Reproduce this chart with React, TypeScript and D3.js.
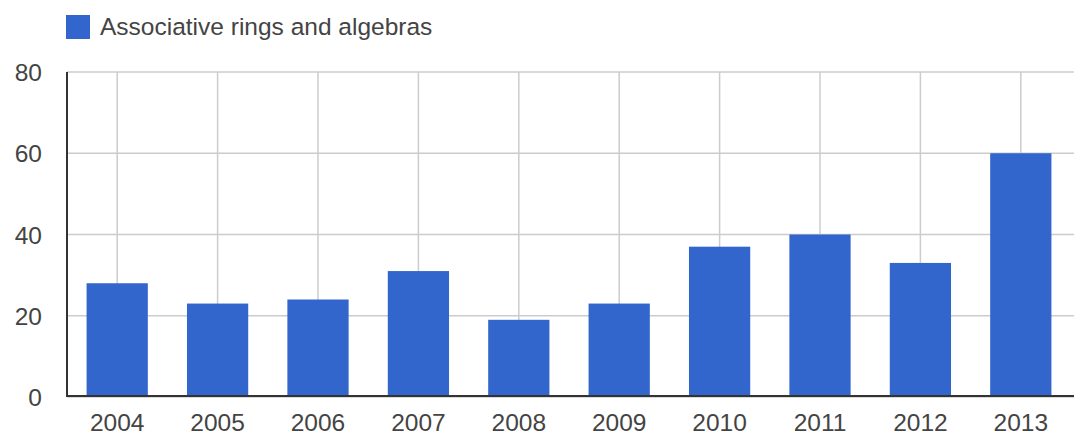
import React from "react";
import * as d3 from "d3";

const years = ["2004","2005","2006","2007","2008","2009","2010","2011","2012","2013"];
const values = [28, 23, 24, 31, 19, 23, 37, 40, 33, 60];
const yTicks = [0, 20, 40, 60, 80];
const seriesName = "Associative rings and algebras";

export default function App() {
  const W = 1076, H = 437;
  const left = 67, right = 1071, top = 72, bottom = 397;
  const x = d3.scaleBand<string>().domain(years).range([left, right]).paddingInner(0.39).paddingOuter(0.195);
  const y = d3.scaleLinear().domain([0, 80]).range([bottom, top]);
  const font = "'Liberation Sans', Arial, sans-serif";
  const textColor = "#444";
  const barColor = "#3366cc";
  return (
    <svg width={W} height={H} style={{ position: "absolute", left: 0, top: 0, background: "#fff" }} fontFamily={font}>
      {/* legend */}
      <rect x={66} y={15} width={24} height={24} fill={barColor} />
      <text x={100} y={35} fontSize={24.5} fill={textColor}>{seriesName}</text>
      {/* horizontal grid */}
      {yTicks.map((t) => (
        <line key={"h" + t} x1={left} x2={1074} y1={y(t)} y2={y(t)} stroke="#cccccc" strokeWidth={1.5} />
      ))}
      {/* vertical grid */}
      {years.map((yr) => {
        const cx = (x(yr) as number) + x.bandwidth() / 2;
        return <line key={"v" + yr} x1={cx} x2={cx} y1={top} y2={bottom} stroke="#cccccc" strokeWidth={1.5} />;
      })}
      {/* bars */}
      {values.map((v, i) => (
        <rect key={"b" + i} x={x(years[i]) as number} y={y(v)} width={x.bandwidth()} height={y(0) - y(v)} fill={barColor} />
      ))}
      {/* axes */}
      <line x1={left} x2={left} y1={top} y2={bottom} stroke="#333" strokeWidth={2} />
      <line x1={left} x2={1074} y1={bottom - 1} y2={bottom - 1} stroke="#333" strokeWidth={2} />
      {/* y labels */}
      {yTicks.map((t) => (
        <text key={"yl" + t} x={42} y={y(t) + 9} textAnchor="end" fontSize={24.5} fill={textColor}>{t}</text>
      ))}
      {/* x labels */}
      {years.map((yr) => (
        <text key={"xl" + yr} x={(x(yr) as number) + x.bandwidth() / 2} y={431} textAnchor="middle" fontSize={24.5} fill={textColor}>{yr}</text>
      ))}
    </svg>
  );
}
